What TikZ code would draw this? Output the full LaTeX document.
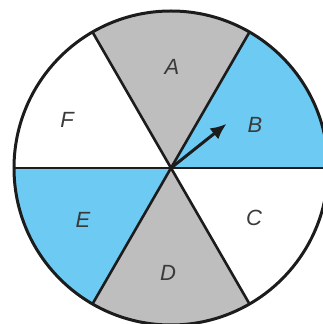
\documentclass[tikz,border=0pt]{standalone}
\usepackage{fontspec}
\setsansfont{Liberation Sans}
\usetikzlibrary{arrows.meta}
\definecolor{SpinBlue}{HTML}{6DCBF3}
\definecolor{SpinGray}{HTML}{BEBEBE}
\definecolor{SpinInk}{HTML}{1C1C1C}
\definecolor{SpinText}{HTML}{3A3A3A}
\tikzset{
spinline/.style={draw=SpinInk, line width=2.6pt, line cap=round},
spinrim/.style={draw=SpinInk, line width=3pt},
spinlabel/.style={font=\sffamily\itshape\fontsize{22}{22}\selectfont, text=SpinText},
spinarrow/.style={-{Latex[length=16pt, width=14pt]}, line width=3pt, draw=SpinInk}
}
\begin{document}
\begin{tikzpicture}[x=1pt, y=1pt]
\useasboundingbox (0,0) rectangle (323,324);
\clip (0,0) rectangle (323,324);
\coordinate (hub) at (171,156);

% sectors
\foreach \a/\c in {0/SpinBlue, 60/SpinGray, 120/white, 180/SpinBlue, 240/SpinGray, 300/white}
  \fill[\c] (hub) -- ++(\a:157) arc[start angle=\a, end angle=\a+60, radius=157] -- cycle;
\foreach \a in {0,60,...,300}
  \draw[spinline] (hub) -- ++(\a:157);
\draw[spinrim] (hub) circle[radius=157];

% labels
\node[spinlabel] (labA) at ([shift={(1,101)}]hub) {A};
\node[spinlabel] (labB) at ([shift={(84,43)}]hub) {B};
\node[spinlabel] (labC) at ([shift={(83,-50)}]hub) {C};
\node[spinlabel] (labD) at ([shift={(-3,-105)}]hub) {D};
\node[spinlabel] (labE) at ([shift={(-88,-52)}]hub) {E};
\node[spinlabel] (labF) at ([shift={(-104,48)}]hub) {F};

% pointer
\coordinate (tip) at ([shift={(38.5:71)}]hub);
\draw[spinarrow] (hub) -- (tip);
\end{tikzpicture}
\end{document}
